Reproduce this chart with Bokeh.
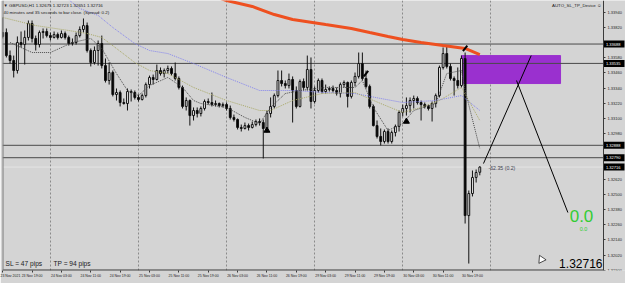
from bokeh.plotting import figure
from bokeh.models import (ColumnDataSource, FixedTicker, Range1d, Span, LinearAxis,
                          NumeralTickFormatter)
from bokeh.core.properties import value
from bokeh.embed import file_html
from bokeh.resources import INLINE

# ---------------- data (GBPUSD H1) ----------------
bar_open = [
    1.33748, 1.33779, 1.33597, 1.33558, 1.33479, 1.33700, 1.33684, 1.33740, 1.33850, 1.33732,
    1.33684, 1.33779, 1.33787, 1.33755, 1.33740, 1.33763, 1.33740, 1.33771, 1.33740, 1.33692,
    1.33700, 1.33755, 1.33803, 1.33834, 1.33637, 1.33542, 1.33637, 1.33692, 1.33518, 1.33400,
    1.33463, 1.33289, 1.33305, 1.33226, 1.33218, 1.33313, 1.33305, 1.33266, 1.33250, 1.33281,
    1.33368, 1.33424, 1.33408, 1.33479, 1.33455, 1.33479, 1.33495, 1.33455, 1.33416, 1.33345,
    1.33195, 1.33242, 1.33123, 1.33163, 1.33139, 1.33179, 1.33234, 1.33226, 1.33210, 1.33218,
    1.33202, 1.33210, 1.33179, 1.33108, 1.33092, 1.33029, 1.33021, 1.33044, 1.33029, 1.33052,
    1.33076, 1.33068, 1.33021, 1.33139, 1.33195, 1.33281, 1.33400, 1.33376, 1.33360, 1.33408,
    1.33321, 1.33195, 1.33392, 1.33345, 1.33487, 1.33234, 1.33321, 1.33400, 1.33313, 1.33329,
    1.33337, 1.33321, 1.33297, 1.33368, 1.33384, 1.33274, 1.33384, 1.33432, 1.33534, 1.33416,
    1.33353, 1.33195, 1.33044, 1.32958, 1.32918, 1.32997, 1.32918, 1.32989, 1.33037, 1.33147,
    1.33179, 1.33202, 1.33242, 1.33258, 1.33226, 1.33210, 1.33195, 1.33179, 1.33218, 1.33281,
    1.33503, 1.33613, 1.33511, 1.33416, 1.33400, 1.33360, 1.33574, 1.32333, 1.32507, 1.32634,
    1.32675]
bar_high = [
    1.33898, 1.33811, 1.33637, 1.33597, 1.33748, 1.33787, 1.33795, 1.33874, 1.33874, 1.33755,
    1.33795, 1.33811, 1.33811, 1.33779, 1.33787, 1.33779, 1.33795, 1.33787, 1.33755, 1.33732,
    1.33779, 1.33827, 1.33890, 1.33858, 1.33653, 1.33669, 1.33716, 1.33755, 1.33574, 1.33542,
    1.33479, 1.33337, 1.33321, 1.33258, 1.33337, 1.33329, 1.33321, 1.33289, 1.33297, 1.33384,
    1.33439, 1.33447, 1.33526, 1.33503, 1.33495, 1.33518, 1.33511, 1.33542, 1.33432, 1.33360,
    1.33266, 1.33250, 1.33187, 1.33187, 1.33195, 1.33250, 1.33258, 1.33305, 1.33242, 1.33226,
    1.33226, 1.33226, 1.33202, 1.33131, 1.33100, 1.33052, 1.33068, 1.33060, 1.33076, 1.33092,
    1.33100, 1.33092, 1.33163, 1.33266, 1.33297, 1.33479, 1.33479, 1.33400, 1.33455, 1.33432,
    1.33353, 1.33408, 1.33416, 1.33597, 1.33582, 1.33353, 1.33416, 1.33416, 1.33368, 1.33353,
    1.33360, 1.33345, 1.33384, 1.33400, 1.33392, 1.33400, 1.33463, 1.33621, 1.33621, 1.33479,
    1.33368, 1.33210, 1.33084, 1.33021, 1.33013, 1.33021, 1.33005, 1.33052, 1.33163, 1.33210,
    1.33266, 1.33266, 1.33281, 1.33274, 1.33242, 1.33226, 1.33210, 1.33234, 1.33297, 1.33518,
    1.33661, 1.33676, 1.33534, 1.33432, 1.33503, 1.33597, 1.33621, 1.32531, 1.32689, 1.32697,
    1.32723]
bar_low = [
    1.33732, 1.33582, 1.33534, 1.33424, 1.33455, 1.33661, 1.33526, 1.33716, 1.33700, 1.33637,
    1.33661, 1.33732, 1.33740, 1.33716, 1.33732, 1.33724, 1.33732, 1.33724, 1.33676, 1.33676,
    1.33684, 1.33740, 1.33779, 1.33621, 1.33511, 1.33526, 1.33518, 1.33495, 1.33384, 1.33368,
    1.33274, 1.33242, 1.33195, 1.33210, 1.33163, 1.33234, 1.33250, 1.33234, 1.33242, 1.33266,
    1.33337, 1.33368, 1.33400, 1.33439, 1.33424, 1.33455, 1.33439, 1.33400, 1.33329, 1.33179,
    1.33163, 1.33044, 1.33084, 1.33108, 1.33116, 1.33163, 1.33210, 1.33195, 1.33195, 1.33187,
    1.33187, 1.33163, 1.33092, 1.33076, 1.33013, 1.32997, 1.33013, 1.33005, 1.33021, 1.33037,
    1.33044, 1.32784, 1.32989, 1.33108, 1.33179, 1.33266, 1.33353, 1.33337, 1.33337, 1.33068,
    1.33179, 1.33187, 1.33321, 1.33321, 1.33179, 1.33218, 1.33305, 1.33297, 1.33297, 1.33313,
    1.33305, 1.33281, 1.33266, 1.33345, 1.33187, 1.33258, 1.33353, 1.33416, 1.33400, 1.33337,
    1.33179, 1.33037, 1.32942, 1.32887, 1.32902, 1.32902, 1.32902, 1.32958, 1.32997, 1.33116,
    1.33123, 1.33147, 1.33179, 1.33210, 1.33084, 1.33179, 1.33163, 1.33076, 1.33187, 1.33266,
    1.33487, 1.33495, 1.33400, 1.33281, 1.33337, 1.33345, 1.32270, 1.31954, 1.32484, 1.32594,
    1.32651]
bar_close = [
    1.33779, 1.33597, 1.33558, 1.33479, 1.33700, 1.33684, 1.33740, 1.33850, 1.33732, 1.33684,
    1.33779, 1.33787, 1.33755, 1.33740, 1.33763, 1.33740, 1.33771, 1.33740, 1.33692, 1.33700,
    1.33755, 1.33803, 1.33834, 1.33637, 1.33542, 1.33637, 1.33692, 1.33518, 1.33400, 1.33463,
    1.33289, 1.33305, 1.33226, 1.33218, 1.33313, 1.33305, 1.33266, 1.33250, 1.33281, 1.33368,
    1.33424, 1.33408, 1.33479, 1.33455, 1.33479, 1.33495, 1.33455, 1.33416, 1.33345, 1.33195,
    1.33242, 1.33123, 1.33163, 1.33139, 1.33179, 1.33234, 1.33226, 1.33210, 1.33218, 1.33202,
    1.33210, 1.33179, 1.33108, 1.33092, 1.33029, 1.33021, 1.33044, 1.33029, 1.33052, 1.33076,
    1.33068, 1.33021, 1.33139, 1.33195, 1.33281, 1.33400, 1.33376, 1.33360, 1.33408, 1.33321,
    1.33195, 1.33392, 1.33345, 1.33487, 1.33234, 1.33321, 1.33400, 1.33313, 1.33329, 1.33337,
    1.33321, 1.33297, 1.33368, 1.33384, 1.33274, 1.33384, 1.33432, 1.33534, 1.33416, 1.33353,
    1.33195, 1.33044, 1.32958, 1.32918, 1.32997, 1.32918, 1.32989, 1.33037, 1.33147, 1.33179,
    1.33202, 1.33242, 1.33258, 1.33226, 1.33210, 1.33195, 1.33179, 1.33218, 1.33281, 1.33503,
    1.33613, 1.33511, 1.33416, 1.33400, 1.33360, 1.33574, 1.32333, 1.32507, 1.32634, 1.32673,
    1.32716]

time_tick_bars = [0, 8, 16, 24, 32, 40, 48, 56, 64, 72, 80, 88, 96, 104, 112, 120, 128]
time_tick_labels = ["23 Nov 2021", "23 Nov 19:00", "24 Nov 03:00", "24 Nov 11:00",
                    "24 Nov 19:00", "25 Nov 03:00", "25 Nov 11:00", "25 Nov 19:00",
                    "26 Nov 03:00", "26 Nov 11:00", "26 Nov 19:00", "29 Nov 03:00",
                    "29 Nov 11:00", "29 Nov 19:00", "30 Nov 03:00", "30 Nov 11:00",
                    "30 Nov 19:00"]
day_start_bars = [13, 37, 61, 85, 109, 133]

price_ticks = [1.31900, 1.32020, 1.32140, 1.32260, 1.32380, 1.32500, 1.32620,
               1.32980, 1.33100, 1.33220, 1.33340, 1.33460, 1.33580, 1.33820, 1.33940]

level_prices = [1.33688, 1.33535, 1.32888, 1.32790]
bid_price = 1.32716

# moving averages (knots)
red_ma_bars = [56, 61, 68, 74, 79, 88, 95, 100, 105, 109, 114, 120, 126, 130]
red_ma_vals = [1.34080, 1.34032, 1.33985, 1.33921, 1.33882, 1.33842, 1.33811, 1.33779,
               1.33748, 1.33724, 1.33700, 1.33676, 1.33653, 1.33605]
slow_ma_bars = [17, 21, 26, 30, 36, 40, 45, 52, 61, 70, 79, 88, 96, 103, 109, 118, 125, 130]
slow_ma_vals = [1.34060, 1.33969, 1.33914, 1.33819, 1.33692, 1.33637, 1.33613, 1.33534,
                1.33424, 1.33321, 1.33321, 1.33305, 1.33297, 1.33258, 1.33226, 1.33242,
                1.33281, 1.33163]
mid_ma_bars = [0, 9, 18, 23, 27, 31, 36, 40, 45, 52, 61, 70, 73, 79, 87, 96, 103, 109,
               114, 119, 125, 130]
mid_ma_vals = [1.33898, 1.33834, 1.33795, 1.33771, 1.33740, 1.33653, 1.33542, 1.33479,
               1.33455, 1.33345, 1.33242, 1.33163, 1.33163, 1.33242, 1.33297, 1.33305,
               1.33218, 1.33147, 1.33187, 1.33242, 1.33345, 1.33084]
fast_ma_bars = [2, 8, 13, 19, 24, 27, 31, 34, 37, 40, 45, 49, 52, 54, 61, 66, 70, 73, 77,
                81, 88, 96, 98, 101, 105, 109, 112, 118, 121, 125, 126, 130]
fast_ma_vals = [1.33700, 1.33621, 1.33621, 1.33700, 1.33732, 1.33653, 1.33455, 1.33321,
                1.33281, 1.33360, 1.33424, 1.33345, 1.33242, 1.33218, 1.33187, 1.33108,
                1.33060, 1.33187, 1.33297, 1.33321, 1.33345, 1.33345, 1.33400, 1.33187,
                1.33005, 1.33060, 1.33163, 1.33218, 1.33455, 1.33479, 1.33321, 1.32863]

zone_left, zone_right = 125, 152
zone_top, zone_bottom = 1.33597, 1.33376
proj_up_bars, proj_up_vals = [131, 144], [1.32744, 1.33597]
proj_down_bars, proj_down_vals = [140, 154], [1.33400, 1.32357]

up_arrow_bars, up_arrow_vals = [72, 110], [1.33005, 1.33076]
tick_mark_bars, tick_mark_vals = [99, 126], [1.33455, 1.33653]

# ---------------- layout ----------------
BG = "#d4d4d4"
FONT = "Liberation Sans"
PX0, PXB = 1.6, 3.67
FRAME_W = 623            # frame covers the chart and the price scale strip
x_start = (1.4 - PX0) / PXB
x_end = x_start + FRAME_W / PXB
y_start, y_end = 1.31899, 1.34032


def bar_at(px):
    return x_start + (px - 2) / PXB


def price_at(py):
    return y_end - py * (y_end - y_start) / 270.0


X_SCALE = bar_at(603)    # where the price scale starts

p = figure(width=625, height=283, x_range=Range1d(x_start, x_end),
           y_range=Range1d(y_start, y_end), y_axis_location=None,
           output_backend="svg", toolbar_location=None,
           min_border_left=2, min_border_right=0, min_border_top=0,
           min_border_bottom=13, background_fill_color=BG, border_fill_color=BG,
           outline_line_color=None)

# price scale axis drawn at the chart's right edge
yax = LinearAxis(fixed_location=X_SCALE, ticker=FixedTicker(ticks=price_ticks),
                 formatter=NumeralTickFormatter(format="0.00000"),
                 major_label_text_font=FONT, major_label_text_font_size="4px",
                 major_label_text_color="#1e1e1e", major_tick_out=2, major_tick_in=0,
                 minor_tick_line_color=None, axis_line_color="#3a3a3a",
                 major_tick_line_color="#3a3a3a", major_label_standoff=2)
p.add_layout(yax, "right")

p.xaxis.ticker = FixedTicker(ticks=time_tick_bars)
p.xaxis.major_label_overrides = {b: t for b, t in zip(time_tick_bars, time_tick_labels)}
p.xaxis.major_label_text_font = FONT
p.xaxis.major_label_text_font_size = "3.5px"
p.xaxis.major_label_text_color = "#1e1e1e"
p.xaxis.major_label_text_align = "left"
p.xaxis.major_tick_out = 2
p.xaxis.major_tick_in = 0
p.xaxis.minor_tick_line_color = None
p.xaxis.axis_line_color = None
p.xaxis.major_tick_line_color = "#3a3a3a"
p.xaxis.major_label_standoff = 1

p.xgrid.ticker = FixedTicker(ticks=day_start_bars)
p.xgrid.grid_line_color = "#8a8a8a"
p.xgrid.grid_line_dash = "2 2"
p.ygrid.visible = False

p.add_layout(Span(location=x_start, dimension="height", line_color="#7a7a7a", line_width=2))
# bottom border of the chart area
p.segment(x0=[x_start], y0=[y_start], x1=[X_SCALE], y1=[y_start],
          line_color="#3a3a3a", line_width=2)

# zone rectangle
p.quad(left=[zone_left], right=[zone_right], top=[zone_top], bottom=[zone_bottom],
       fill_color="#9a30cf", line_color="#9a30cf")

# bid line and levels (stop at the price scale)
p.segment(x0=[x_start], y0=[bid_price], x1=[X_SCALE], y1=[bid_price],
          line_color="#e4e4e4", line_width=1)
p.segment(x0=[x_start] * len(level_prices), y0=level_prices,
          x1=[X_SCALE] * len(level_prices), y1=level_prices,
          line_color="#4a4a4a", line_width=1)

# candles
bars = list(range(len(bar_close)))
bull = [c >= o for o, c in zip(bar_open, bar_close)]
src = ColumnDataSource(dict(
    i=bars, h=bar_high, l=bar_low,
    top=[max(o, c) for o, c in zip(bar_open, bar_close)],
    bottom=[min(o, c) for o, c in zip(bar_open, bar_close)],
    fill=["white" if b else "black" for b in bull]))
p.segment(x0="i", y0="l", x1="i", y1="h", source=src, line_color="#111111", line_width=1)
p.vbar(x="i", width=0.5, top="top", bottom="bottom", source=src,
       fill_color="fill", line_color="#111111", line_width=1)

# moving averages
p.line(slow_ma_bars, slow_ma_vals, line_color="#8484ee", line_width=1, line_dash="1 1")
p.line(mid_ma_bars, mid_ma_vals, line_color="#a9a968", line_width=1, line_dash="1 1")
p.line(fast_ma_bars, fast_ma_vals, line_color="#4a4a4a", line_width=1, line_dash="1 1")
p.line(red_ma_bars, red_ma_vals, line_color="#ee5020", line_width=3)

# projection lines
p.line(proj_up_bars, proj_up_vals, line_color="black", line_width=1)
p.line(proj_down_bars, proj_down_vals, line_color="black", line_width=1)

# arrows
p.scatter(up_arrow_bars, up_arrow_vals, marker="triangle", size=6,
          fill_color="black", line_color="black")
p.scatter(tick_mark_bars, tick_mark_vals, marker="dash", size=7, angle=0.9,
          line_color="black", line_width=2)

# highlighted price labels on the price scale
hl_prices = level_prices + [bid_price]
p.rect(x=[bar_at(613.5)] * len(hl_prices), y=hl_prices, width=21, height=7,
       width_units="screen", height_units="screen", fill_color="black", line_color=None)
p.text(x=[bar_at(605.5)] * len(hl_prices), y=hl_prices,
       text=["%.5f" % v for v in hl_prices], text_font=value(FONT),
       text_font_size="4px", text_color="white", text_align="left",
       text_baseline="middle")

# texts inside the chart
p.text(x=[bar_at(3)], y=[price_at(5)],
       text=["\u25bc GBPUSD,H1  1.32675 1.32723 1.32651 1.32716"],
       text_font=value(FONT), text_font_size="4.4px", text_color="#1a1a1a",
       text_align="left", text_baseline="middle")
p.text(x=[bar_at(3)], y=[price_at(11.5)],
       text=["40 minutes and 35 seconds to bar close. (Spread: 0.2)"],
       text_font=value(FONT), text_font_size="4.4px", text_color="#1a1a1a",
       text_align="left", text_baseline="middle")
p.text(x=[bar_at(601)], y=[price_at(5)], text=["AUTO_SL_TP_Device \u263a"],
       text_font=value(FONT), text_font_size="4.4px", text_color="#1a1a1a",
       text_align="right", text_baseline="middle")
p.text(x=[bar_at(488)], y=[price_at(167)], text=["-62.35 (0.2)"],
       text_font=value(FONT), text_font_size="5.2px", text_color="#404050",
       text_align="left", text_baseline="middle")
p.text(x=[bar_at(5), bar_at(53)], y=[price_at(263), price_at(263)],
       text=["SL = 47 pips", "TP = 94 pips"],
       text_font=value(FONT), text_font_size="6.6px", text_color="#1a1a1a",
       text_align="left", text_baseline="alphabetic")
p.text(x=[bar_at(581)], y=[price_at(215)], text=["0.0"],
       text_font=value(FONT), text_font_size="17px", text_color="#33cc33",
       text_align="center", text_baseline="middle")
p.text(x=[bar_at(583)], y=[price_at(228)], text=["0.0"],
       text_font=value(FONT), text_font_size="5.5px", text_color="#33cc33",
       text_align="center", text_baseline="middle")
p.text(x=[bar_at(602)], y=[price_at(263)], text=["1.32716"],
       text_font=value(FONT), text_font_size="12px", text_color="#000000",
       text_align="right", text_baseline="middle")

# mouse pointer left on the chart
p.scatter(x=[bar_at(541)], y=[price_at(259)], marker="triangle", size=8, angle=0.45,
          fill_color="white", line_color="#222222", line_width=0.8)

open("out.html", "w").write(file_html(p, INLINE))
